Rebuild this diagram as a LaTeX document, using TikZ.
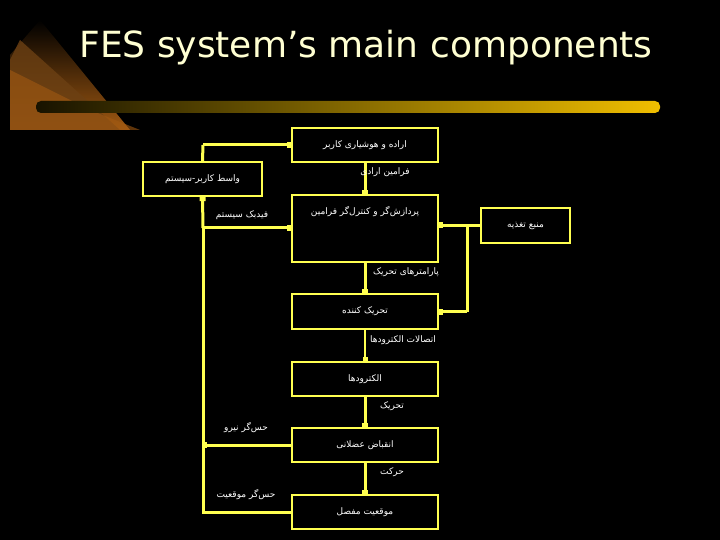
\documentclass[tikz,border=0pt]{standalone}
\usepackage{fontspec}
\setmainfont{DejaVu Sans}
\newfontfamily\arabicfont[Script=Arabic]{DejaVu Sans}
\newfontfamily\titlefont{DejaVu Sans}
\TeXXeTstate=1
\usetikzlibrary{arrows.meta}
\definecolor{yel}{RGB}{255,255,80}
\definecolor{cream}{RGB}{255,255,210}
\definecolor{gold}{RGB}{240,190,0}
\newcommand{\fa}[1]{{\arabicfont\beginR #1\endR}}
\begin{document}
\begin{tikzpicture}[x=1pt,y=-1pt,
  box/.style={draw=yel,line width=2.3pt,text=white,font=\fontsize{9}{10}\selectfont},
  lab/.style={text=white,font=\fontsize{9}{10}\selectfont,inner sep=1pt},
  con/.style={draw=yel,line width=3pt,-{Rectangle[length=4pt,width=6pt]}},
  thin/.style={draw=yel,line width=1.2pt,-{Rectangle[length=4pt,width=5pt]}},
  ln/.style={draw=yel,line width=3pt}]
\fill[black] (0,0) rectangle (720,540);
\useasboundingbox (0,0) rectangle (720,540);
% decoration
\fill[left color=black,right color=orange!60!brown!70!black,shading angle=0] (10,55) -- (40,20) -- (130,130) -- (10,130) -- cycle;
\fill[orange!40!brown!50!black,opacity=0.8] (10,60) -- (20,40) -- (120,130) -- (10,130) -- cycle;
\fill[orange!60!brown!70!black,opacity=0.6] (10,70) -- (90,110) -- (140,130) -- (10,130) -- cycle;
\shade[left color=black!90!gold,right color=gold,rounded corners=5pt] (36,101) rectangle (660,113);
\node[text=cream,font=\titlefont\fontsize{36}{40}\selectfont,anchor=center] (title) at (366,48) {FES system’s main components};
% boxes
\node[box,minimum width=146pt,minimum height=34pt] (will) at (365,145) {\fa{اراده و هوشیاری کاربر}};
\node[box,minimum width=119pt,minimum height=34pt] (ui) at (202.5,179) {\fa{واسط کاربر-سیستم}};
\node[box,minimum width=146pt,minimum height=67pt] (proc) at (365,228.5) {};
\node[lab] (proctxt) at (365,212) {\fa{پردازش‌گر و کنترل‌گر فرامین}};
\node[box,minimum width=89pt,minimum height=35pt] (pwr) at (525.5,225.5) {\fa{منبع تغذیه}};
\node[box,minimum width=146pt,minimum height=35pt] (act) at (365,311.5) {\fa{تحریک کننده}};
\node[box,minimum width=146pt,minimum height=34pt] (elec) at (365,379) {\fa{الکترودها}};
\node[box,minimum width=146pt,minimum height=34pt] (mus) at (365,445) {\fa{انقباض عضلانی}};
\node[box,minimum width=146pt,minimum height=34pt] (joint) at (365,512) {\fa{موقعیت مفصل}};
% coordinates
\coordinate (fl) at (203,228);
\coordinate (ft) at (203,145);
\coordinate (pj) at (467,225);
\coordinate (pb) at (467,311.5);
% connectors
\draw[con] (will) -- (proc);
\draw[con] (proc) -- (act);
\draw[thin] (act) -- (elec);
\draw[con] (elec) -- (mus);
\draw[con] (mus) -- (joint);
\draw[con] (pwr.west) -- (proc.east |- pwr.west);
\draw[ln] (pj) -- (pb);
\draw[con] (pb) -- (act.east);
\draw[ln] (joint.west) -| (fl);
\draw[con] (mus.west) -- (203,445);
\draw[con] (fl) -- (ui.south);
\draw[con] (fl) -- (proc.west |- fl);
\draw[ln] (ui.north) -- (ft);
\draw[con] (ft) -- (will.west);
% labels
\node[lab] (l1) at (385,172) {\fa{فرامین ارادی}};
\node[lab] (l2) at (242,215) {\fa{فیدبک سیستم}};
\node[lab] (l3) at (406,272) {\fa{پارامترهای تحریک}};
\node[lab] (l4) at (403,340) {\fa{اتصالات الکترودها}};
\node[lab] (l5) at (392,406) {\fa{تحریک}};
\node[lab] (l6) at (246,428) {\fa{حس‌گر نیرو}};
\node[lab] (l7) at (392,472) {\fa{حرکت}};
\node[lab] (l8) at (246,495) {\fa{حس‌گر موقعیت}};
\end{tikzpicture}
\end{document}
